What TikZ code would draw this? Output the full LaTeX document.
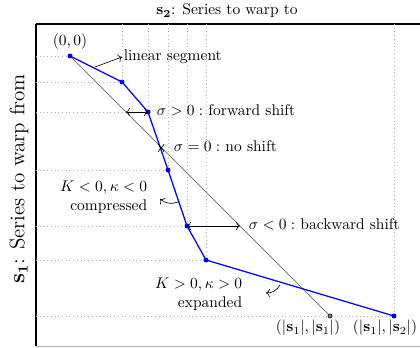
\documentclass[tikz,border=0pt]{standalone}
\usepackage{amsmath,amssymb,bm}
\usepackage{xcolor}
\usetikzlibrary{arrows.meta,positioning}

\begin{document}
\begin{tikzpicture}[x=0.645pt,y=-0.645pt,
  axis/.style={line width=0.8pt},
  guide/.style={gray!60, dotted},
  warp/.style={blue, thick},
  diag/.style={gray, semithick},
  lbl/.style={inner sep=1pt},
  arr/.style={->}
]
\useasboundingbox (0,0) rectangle (420,348);

% axes
\coordinate (o) at (36,24);
\draw[axis] (o) -- (420,24);
\draw[axis] (o) -- (36,346);
\draw[gray!60] (36,346) -- (420,346);
\node (top) at (227,11) {$\mathbf{s_2}$: Series to warp to};
\node[rotate=90] (left) at (19,179) {\fontsize{13.5}{16}\selectfont $\mathbf{s_1}$: Series to warp from};

% warping path
\coordinate (p1) at (70,56);
\coordinate (p2) at (122,82);
\coordinate (p3) at (148,112);
\coordinate (p4) at (168,170);
\coordinate (p5) at (187,226);
\coordinate (p6) at (206,260);
\coordinate (p7) at (394,316);
\coordinate (e) at (330,316);

\foreach \i in {1,...,7} \draw[guide] (o |- p\i) -- (p\i);
\foreach \i in {2,...,7} \draw[guide] (p\i |- o) -- (p\i);

\draw[diag] (p1) -- (e);
\filldraw[fill=gray, draw=black, thin] (e) circle (1.3pt);

\draw[warp] (p1) -- (p2) -- (p3) -- (p4) -- (p5) -- (p6) -- (p7);
\foreach \i in {1,...,7} \fill[blue] (p\i) circle (1.6pt);

\node[above=1pt] (orig) at (p1) {$(0,0)$};
\node[lbl] (end1) at (308,328) {$(|\mathbf{s}_1|,|\mathbf{s}_1|)$};
\node[lbl] (end2) at (385,328) {$(|\mathbf{s}_1|,|\mathbf{s}_2|)$};

% annotations
\coordinate (a1) at (95,67);
\node[lbl, anchor=west] (lin) at (122,57) {linear segment};
\draw[arr] (a1) -- (lin.west);

\coordinate (d3) at (126,112);
\node[lbl, anchor=west] (fwd) at (155,110) {$\sigma>0:$ forward shift};
\draw[<->] (d3) -- (p3);

\coordinate (b0) at (160.4,148);
\coordinate (d0) at (162,148);
\node[lbl, anchor=west] (none) at (172,146) {$\sigma=0:$ no shift};
\draw[<->] (d0) -- (b0);

\coordinate (d5) at (240,226);
\node[lbl, anchor=west] (bwd) at (247,224) {$\sigma<0:$ backward shift};
\draw[<->] (p5) -- (d5);

\coordinate (c1) at (178,202);
\coordinate (c2) at (160,199);
\node[lbl, anchor=east, align=right] (comp) at (149,197) {$K<0,\kappa<0$\\compressed};
\draw[arr] (c1) to[bend left] (c2);

\coordinate (x1) at (280,285);
\coordinate (x2) at (266,293);
\node[lbl, anchor=east, align=right] (expd) at (244,294) {$K>0,\kappa>0$\\expanded};
\draw[arr] (x1) to[bend left] (x2);
\end{tikzpicture}
\end{document}
